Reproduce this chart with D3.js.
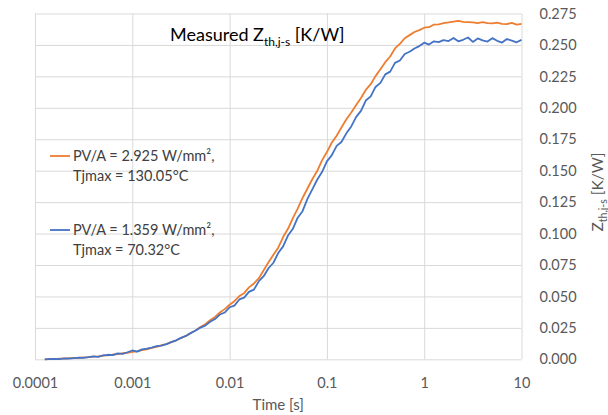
<!DOCTYPE html>
<html>
<head>
<meta charset="utf-8">
<script src="https://cdn.jsdelivr.net/npm/d3@7"></script>
<style>
  body { margin: 0; background: #fff; }
  svg { display: block; font-family: Lato, "Open Sans", sans-serif; }
</style>
</head>
<body>
<div id="chart"></div>
<script>
// time samples [s]
const time = [
  1.26e-4, 1.41e-4, 1.58e-4, 1.78e-4, 2e-4, 2.24e-4, 2.51e-4, 2.82e-4,
  3.16e-4, 3.55e-4, 3.98e-4, 4.47e-4, 5.01e-4, 5.62e-4, 6.31e-4, 7.08e-4, 7.94e-4, 8.91e-4,
  1e-3, 1.12e-3, 1.26e-3, 1.41e-3, 1.58e-3, 1.78e-3, 2e-3, 2.24e-3, 2.51e-3, 2.82e-3,
  3.16e-3, 3.55e-3, 3.98e-3, 4.47e-3, 5.01e-3, 5.62e-3, 6.31e-3, 7.08e-3, 7.94e-3, 8.91e-3,
  1e-2, 1.12e-2, 1.26e-2, 1.41e-2, 1.58e-2, 1.78e-2, 2e-2, 2.24e-2, 2.51e-2, 2.82e-2,
  3.16e-2, 3.55e-2, 3.98e-2, 4.47e-2, 5.01e-2, 5.62e-2, 6.31e-2, 7.08e-2, 7.94e-2, 8.91e-2,
  0.1, 0.112, 0.126, 0.141, 0.158, 0.178, 0.2, 0.224, 0.251, 0.282,
  0.316, 0.355, 0.398, 0.447, 0.501, 0.562, 0.631, 0.708, 0.794, 0.891,
  1, 1.12, 1.26, 1.41, 1.58, 1.78, 2, 2.24, 2.51, 2.82,
  3.16, 3.55, 3.98, 4.47, 5.01, 5.62, 6.31, 7.08, 7.94, 8.91, 10
];

// PV/A = 2.925 W/mm²
const zthHigh = [
  0.0000, 0.0003, 0.0002, 0.0006, 0.0005, 0.0009, 0.0010, 0.0011,
  0.0016, 0.0017, 0.0022, 0.0024, 0.0030, 0.0032, 0.0038, 0.0041, 0.0048, 0.0051,
  0.0059, 0.0063, 0.0073, 0.0079, 0.0090, 0.0098, 0.0112, 0.0121, 0.0137, 0.0149,
  0.0169, 0.0185, 0.0209, 0.0229, 0.0257, 0.0279, 0.0310, 0.0337, 0.0372, 0.0399,
  0.0434, 0.0462, 0.0503, 0.0526, 0.0572, 0.0603, 0.0645, 0.0708, 0.0772, 0.0832,
  0.0888, 0.0972, 0.1038, 0.1122, 0.1198, 0.1283, 0.1358, 0.1432, 0.1497, 0.1582,
  0.1648, 0.1722, 0.1778, 0.1843, 0.1907, 0.1962, 0.2023, 0.2078, 0.2142, 0.2188,
  0.2252, 0.2307, 0.2363, 0.2408, 0.2472, 0.2508, 0.2553, 0.2578, 0.2603, 0.2618,
  0.2637, 0.2641, 0.2662, 0.2664, 0.2673, 0.2679, 0.2686, 0.2691, 0.2683, 0.2681,
  0.2679, 0.2674, 0.2682, 0.2674, 0.2671, 0.2677, 0.2668, 0.2665, 0.2676, 0.2661, 0.2668
];

// PV/A = 1.359 W/mm²
const zthLow = [
  0.0000, 0.0002, 0.0004, 0.0001, 0.0007, 0.0006, 0.0010, 0.0013,
  0.0012, 0.0018, 0.0024, 0.0020, 0.0031, 0.0036, 0.0034, 0.0047, 0.0043, 0.0056,
  0.0070, 0.0061, 0.0079, 0.0085, 0.0092, 0.0104, 0.0108, 0.0121, 0.0136, 0.0151,
  0.0170, 0.0186, 0.0208, 0.0229, 0.0252, 0.0268, 0.0298, 0.0320, 0.0356, 0.0372,
  0.0414, 0.0427, 0.0476, 0.0491, 0.0536, 0.0554, 0.0622, 0.0661, 0.0724, 0.0768,
  0.0845, 0.0898, 0.0984, 0.1038, 0.1126, 0.1178, 0.1276, 0.1352, 0.1428, 0.1489,
  0.1574, 0.1622, 0.1697, 0.1728, 0.1795, 0.1852, 0.1928, 0.1976, 0.2058, 0.2091,
  0.2166, 0.2198, 0.2266, 0.2288, 0.2357, 0.2376, 0.2428, 0.2446, 0.2472, 0.2491,
  0.2518, 0.2503, 0.2529, 0.2522, 0.2538, 0.2531, 0.2556, 0.2529, 0.2541, 0.2559,
  0.2524, 0.2552, 0.2536, 0.2527, 0.2554, 0.2533, 0.2519, 0.2547, 0.2535, 0.2521, 0.2540
];

const seriesNames = [
  ['PV/A = 2.925 W/mm²,', 'Tjmax = 130.05°C'],
  ['PV/A = 1.359 W/mm²,', 'Tjmax = 70.32°C']
];
const seriesColors = ['#ED7D31', '#4472C4'];

const xTicks = [0.0001, 0.001, 0.01, 0.1, 1, 10];
const xTickLabels = ['0.0001', '0.001', '0.01', '0.1', '1', '10'];
const yTicks = [0, 0.025, 0.05, 0.075, 0.1, 0.125, 0.15, 0.175, 0.2, 0.225, 0.25, 0.275];

const W = 608, H = 415;
const m = { left: 35, right: 86.5, top: 13.5, bottom: 55.7 };

const svg = d3.select('#chart').append('svg')
  .attr('width', W)
  .attr('height', H);

const x = d3.scaleLog()
  .domain([0.0001, 10])
  .range([m.left, W - m.right]);

const y = d3.scaleLinear()
  .domain([0, 0.275])
  .range([H - m.bottom, m.top]);

const txtColor = '#595959';
const gridColor = '#d9d9d9';

// chart title, mostly above the visible area (as in the source image)
svg.append('text')
  .attr('x', 207)
  .attr('y', -7)
  .attr('font-size', 20)
  .attr('font-weight', 'bold')
  .attr('fill', '#000')
  .call(t => {
    t.append('tspan').text('Z');
    t.append('tspan').attr('dy', 5).attr('font-size', 13).text('th,j-s');
    t.append('tspan').attr('dy', -5).text(' at two power levels');
  });

// horizontal gridlines
svg.append('g')
  .attr('transform', `translate(${m.left},0)`)
  .call(d3.axisLeft(y).tickValues(yTicks).tickSize(-(W - m.left - m.right)).tickFormat(''))
  .call(g => g.select('.domain').remove())
  .call(g => g.selectAll('line').attr('stroke', gridColor));

// vertical gridlines
svg.append('g')
  .attr('transform', `translate(0,${H - m.bottom})`)
  .call(d3.axisBottom(x).tickValues(xTicks).tickSize(-(H - m.top - m.bottom)).tickFormat(''))
  .call(g => g.select('.domain').remove())
  .call(g => g.selectAll('line').attr('stroke', gridColor));

// x labels
svg.append('g')
  .attr('transform', `translate(0,${H - m.bottom})`)
  .call(d3.axisBottom(x).tickValues(xTicks).tickSize(0).tickPadding(18)
    .tickFormat((d, i) => xTickLabels[i]))
  .call(g => g.select('.domain').remove())
  .call(g => g.selectAll('text')
    .attr('font-family', 'Lato, sans-serif')
    .attr('font-size', 14.5)
    .attr('fill', txtColor));

// y labels on the right
svg.append('g')
  .attr('transform', `translate(${W - m.right},0)`)
  .call(d3.axisRight(y).tickValues(yTicks).tickSize(0).tickPadding(18)
    .tickFormat(d3.format('.3f')))
  .call(g => g.select('.domain').remove())
  .call(g => g.selectAll('text')
    .attr('font-family', 'Lato, sans-serif')
    .attr('font-size', 14.5)
    .attr('fill', txtColor));

// axis titles
svg.append('text')
  .attr('x', (m.left + W - m.right) / 2)
  .attr('y', 410)
  .attr('text-anchor', 'middle')
  .attr('font-size', 15)
  .attr('fill', txtColor)
  .text('Time [s]');

svg.append('text')
  .attr('transform', 'translate(603,192) rotate(-90)')
  .attr('text-anchor', 'middle')
  .attr('font-size', 15.5)
  .attr('fill', txtColor)
  .call(t => {
    t.append('tspan').text('Z');
    t.append('tspan').attr('dy', 4).attr('font-size', 10.5).text('th,j-s');
    t.append('tspan').attr('dy', -4).text(' [K/W]');
  });

// title inside plot
svg.append('text')
  .attr('x', 170)
  .attr('y', 41)
  .attr('font-size', 18)
  .attr('fill', '#000')
  .call(t => {
    t.append('tspan').text('Measured Z');
    t.append('tspan').attr('dy', 5).attr('font-size', 12).text('th,j-s');
    t.append('tspan').attr('dy', -5).text(' [K/W]');
  });

// lines
const line = d3.line()
  .x((d, i) => x(time[i]))
  .y(d => y(d));

[zthHigh, zthLow].forEach((s, i) => {
  svg.append('path')
    .datum(s)
    .attr('fill', 'none')
    .attr('stroke', seriesColors[i])
    .attr('stroke-width', 1.8)
    .attr('stroke-linejoin', 'round')
    .attr('d', line);
});

// legend
const legendY = [156, 230];
seriesNames.forEach((lines, i) => {
  const g = svg.append('g').attr('transform', `translate(50,${legendY[i]})`);
  g.append('line')
    .attr('x1', 0).attr('x2', 20)
    .attr('stroke', seriesColors[i])
    .attr('stroke-width', 1.8);
  lines.forEach((l, j) => {
    g.append('text')
      .attr('x', 23)
      .attr('y', 5 + j * 20)
      .attr('font-size', 14.5)
      .attr('fill', '#404040')
      .text(l);
  });
});
</script>
</body>
</html>
